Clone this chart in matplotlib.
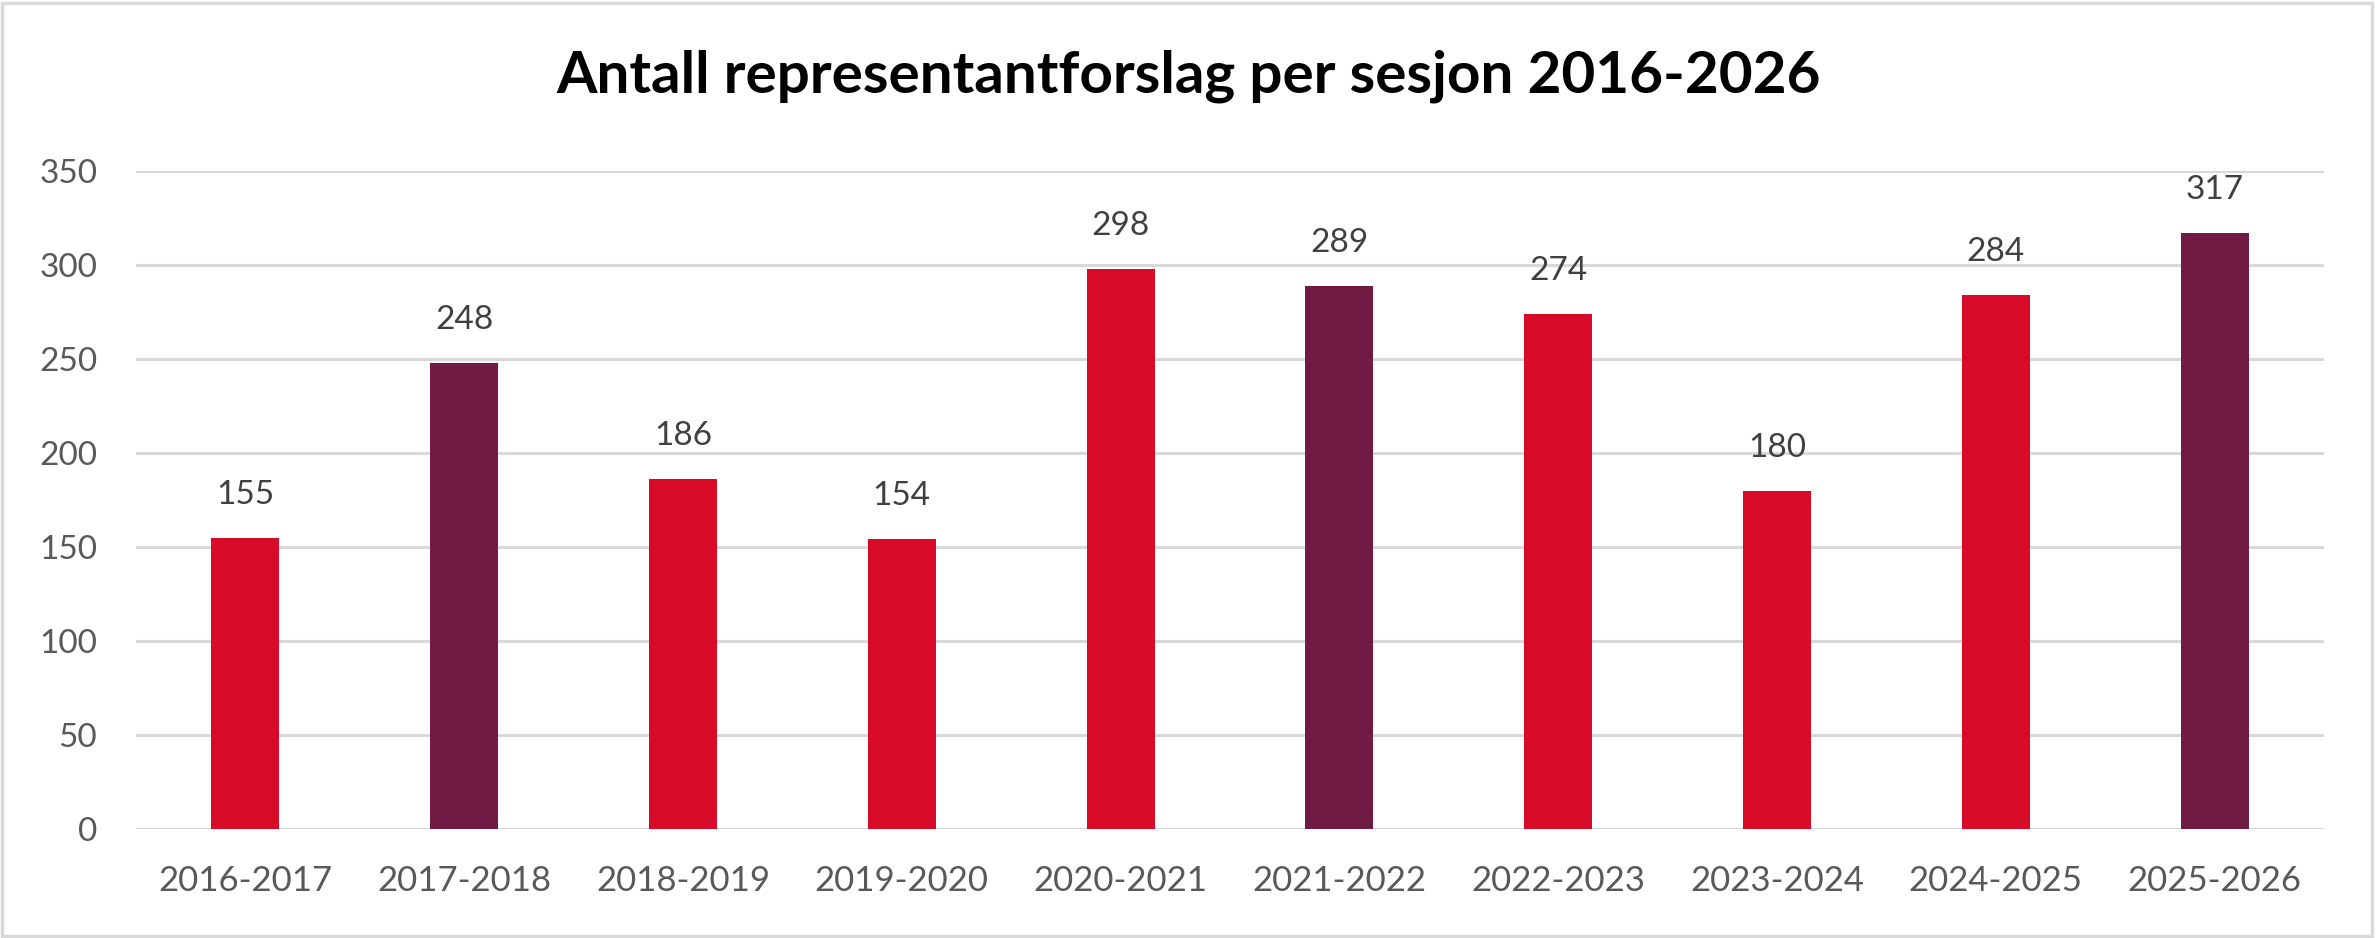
import matplotlib
matplotlib.use("Agg")
import matplotlib.pyplot as plt
from matplotlib.patches import Rectangle

sessions = ["2016-2017", "2017-2018", "2018-2019", "2019-2020", "2020-2021",
            "2021-2022", "2022-2023", "2023-2024", "2024-2025", "2025-2026"]
counts = [155, 248, 186, 154, 298, 289, 274, 180, 284, 317]
# election years are drawn in the dark colour
election = [False, True, False, False, False, True, False, False, False, True]
yticks = [0, 50, 100, 150, 200, 250, 300, 350]

red = "#D70A28"
purple = "#701B43"
grid = "#D9D9D9"

plt.rcParams['font.family'] = ['Lato', 'DejaVu Sans']

fig = plt.figure(figsize=(23.77, 9.38), dpi=100)
ax = fig.add_axes([136 / 2377, 1 - 829 / 938, (2324 - 136) / 2377, (829 - 171) / 938])

colors = [purple if e else red for e in election]
x = range(len(sessions))
bars = ax.bar(x, counts, width=0.31, color=colors, zorder=3)

for xi, v in zip(x, counts):
    ax.annotate(str(v), (xi, v), xytext=(0, 31), textcoords="offset points",
                ha="center", va="center", fontsize=24, color="#404040")

ax.set_xlim(-0.5, len(sessions) - 0.5)
ax.set_ylim(0, 350)
ax.set_yticks(yticks)
ax.set_xticks(list(x))
ax.set_xticklabels(sessions)
ax.yaxis.grid(True, color=grid, linewidth=2.2, zorder=0)
ax.tick_params(axis="both", length=0, labelsize=24, labelcolor="#595959")
ax.tick_params(axis="x", labelsize=25)
ax.tick_params(axis="y", pad=28)
ax.tick_params(axis="x", pad=26)
for s in ax.spines.values():
    s.set_visible(False)

fig.text(0.5, 1 - 76 / 938, "Antall representantforslag per sesjon 2016-2026",
         ha="center", va="center", fontsize=42, fontweight="bold", color="black")

fig.patches.append(Rectangle((0.001, 0.002), 0.997, 0.995, transform=fig.transFigure,
                             fill=False, edgecolor=grid, linewidth=2.5))

fig.savefig("out.png", dpi=100)
